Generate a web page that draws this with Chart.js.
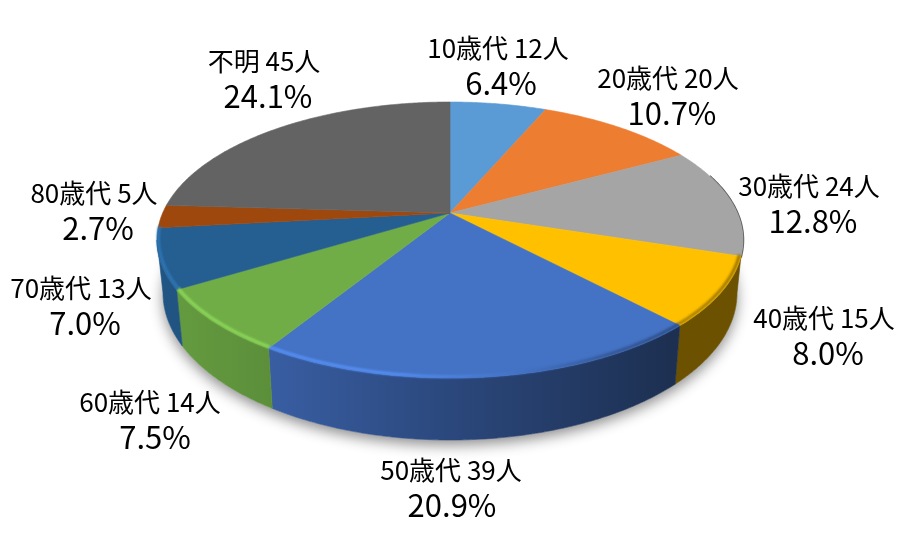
<!DOCTYPE html>
<html lang="ja">
<head>
<meta charset="utf-8">
<title>年代別</title>
<script src="https://cdn.jsdelivr.net/npm/chart.js@4"></script>
<style>
  html, body { margin: 0; padding: 0; background: #fff; }
  canvas { display: block; }
</style>
</head>
<body>
<canvas id="myChart" width="900" height="550"></canvas>
<script>
// data
const categories = ['10歳代', '20歳代', '30歳代', '40歳代', '50歳代', '60歳代', '70歳代', '80歳代', '不明'];
const counts = [12, 20, 24, 15, 39, 14, 13, 5, 45];
const percents = ['6.4%', '10.7%', '12.8%', '8.0%', '20.9%', '7.5%', '7.0%', '2.7%', '24.1%'];
const colors = ['#5B9BD5', '#ED7D31', '#A5A5A5', '#FFC000', '#4472C4', '#70AD47', '#255E91', '#9E480E', '#636363'];

// label centres, same order as categories, and how far the percent line sits right of its name
const labelPos = [[498, 48], [668, 78], [809, 186], [824, 318], [451, 470], [150, 402], [81, 288], [94, 193], [264, 61]];
const percentShift = [3, 4, 4, 4, 1, 5, 4, 4, 4];

// tilted disc: top face and bottom rim ellipses
const top3d = { cx: 450, cy: 240, rx: 293, ry: 138 };
const bottom3d = { cx: 450, cy: 293, rx: 287, ry: 147 };
const persp = -27 / 138; // pulls the apex up from the ellipse centre
const sideAngle = Math.asin(-persp); // angle where the ellipses are widest

function project(angle, e) {
    const X = Math.cos(angle), Y = Math.sin(angle);
    const den = 1 + persp * Y;
    return [
        e.cx + e.rx * Math.sqrt(1 - persp * persp) * X / den,
        e.cy + e.ry * (Y + persp) / den
    ];
}

function arcPoints(a0, a1, e) {
    const n = Math.max(2, Math.ceil((a1 - a0) / 0.01));
    const pts = [];
    for (let i = 0; i <= n; i++) pts.push(project(a0 + (a1 - a0) * i / n, e));
    return pts;
}

function shade(hex, f) {
    const v = parseInt(hex.slice(1), 16);
    const c = s => Math.min(255, Math.round(s * f));
    return `rgb(${c(v >> 16)}, ${c((v >> 8) & 255)}, ${c(v & 255)})`;
}

function trace(ctx, pts) {
    pts.forEach((p, i) => i ? ctx.lineTo(p[0], p[1]) : ctx.moveTo(p[0], p[1]));
}

function ramp(ctx, stops) {
    const g = ctx.createLinearGradient(160, 0, 740, 0);
    stops.forEach(s => g.addColorStop(s[0], s[1]));
    return g;
}

const pie3d = {
    id: 'pie3d',
    beforeDatasetDraw(chart, args) {
        const ctx = chart.ctx;
        const arcs = chart.getDatasetMeta(args.index).data;
        const rightSide = sideAngle, leftSide = Math.PI - sideAngle;
        ctx.save();

        // soft shadow under the disc
        ctx.save();
        ctx.shadowColor = 'rgba(0,0,0,0.45)';
        ctx.shadowBlur = 14;
        ctx.shadowOffsetY = 5;
        ctx.fillStyle = '#fff';
        ctx.beginPath();
        trace(ctx, arcPoints(0, Math.PI * 2, bottom3d));
        ctx.closePath();
        ctx.fill();
        ctx.restore();

        // side walls, only the slices facing front; the outer two reach out to the silhouette
        const front = arcs.map((arc, i) => i).filter(i => arcs[i].endAngle > 0.35 && arcs[i].startAngle < 3);
        front.forEach((i, k) => {
            const arc = arcs[i];
            const first = k === 0, last = k === front.length - 1;
            const g = ramp(ctx, [
                [0, shade(colors[i], 0.9)],
                [0.2, shade(colors[i], 0.82)],
                [0.55, shade(colors[i], 0.6)],
                [0.88, shade(colors[i], 0.42)],
                [1, shade(colors[i], 0.42)]
            ]);
            const upper = arcPoints(arc.startAngle, last ? leftSide : arc.endAngle, top3d);
            const lower = arcPoints(first ? rightSide : arc.startAngle, last ? leftSide : arc.endAngle, bottom3d).reverse();
            ctx.beginPath();
            trace(ctx, upper.concat(lower));
            ctx.closePath();
            ctx.fillStyle = g;
            ctx.strokeStyle = g;
            ctx.lineWidth = 0.6;
            ctx.fill();
            ctx.stroke();
        });

        // thin dark edge where the disc turns away on the right
        ctx.strokeStyle = 'rgba(40,40,40,0.75)';
        ctx.lineWidth = 1.5;
        ctx.beginPath();
        trace(ctx, arcPoints(-0.3, 0.32, { cx: top3d.cx + 0.5, cy: top3d.cy, rx: top3d.rx, ry: top3d.ry }));
        ctx.stroke();

        // top face
        const apex = [top3d.cx, top3d.cy + top3d.ry * persp];
        arcs.forEach((arc, i) => {
            ctx.beginPath();
            trace(ctx, [apex].concat(arcPoints(arc.startAngle, arc.endAngle, top3d)));
            ctx.closePath();
            ctx.fillStyle = colors[i];
            ctx.strokeStyle = colors[i];
            ctx.lineWidth = 0.6;
            ctx.fill();
            ctx.stroke();
        });

        // bevel along the front rim, lighter tint on the left, darker on the right
        ctx.save();
        ctx.filter = 'blur(0.8px)';
        ctx.lineWidth = 3;
        const rim = { cx: top3d.cx, cy: top3d.cy - 1.5, rx: top3d.rx - 1.5, ry: top3d.ry };
        front.forEach(i => {
            const arc = arcs[i];
            const a0 = Math.max(arc.startAngle, 0.2);
            const a1 = Math.min(arc.endAngle, Math.PI + 0.05);
            ctx.strokeStyle = ramp(ctx, [
                [0, shade(colors[i], 1.25)],
                [0.4, shade(colors[i], 1.25)],
                [0.62, shade(colors[i], 1)],
                [0.78, shade(colors[i], 0.75)],
                [1, shade(colors[i], 0.6)]
            ]);
            ctx.beginPath();
            trace(ctx, arcPoints(a0, a1, rim));
            ctx.stroke();
        });
        ctx.restore();

        ctx.restore();
        return false;
    },
    afterDraw(chart) {
        const ctx = chart.ctx;
        ctx.save();
        ctx.fillStyle = '#000';
        ctx.textAlign = 'center';
        ctx.textBaseline = 'middle';
        categories.forEach((c, i) => {
            const [x, y] = labelPos[i];
            ctx.font = '26px "Noto Sans CJK JP", "Noto Sans", sans-serif';
            ctx.fillText(`${c} ${counts[i]}人`, x, y);
            ctx.font = '31px "Noto Sans CJK JP", "Noto Sans", sans-serif';
            ctx.fillText(percents[i], x + percentShift[i], y + 35);
        });
        ctx.restore();
    }
};

const myChart = new Chart(document.getElementById('myChart'), {
    type: 'pie',
    data: {
        labels: categories,
        datasets: [{ data: counts, backgroundColor: colors, borderWidth: 0 }]
    },
    options: {
        responsive: false,
        animation: false,
        plugins: { legend: { display: false }, tooltip: { enabled: false } }
    },
    plugins: [pie3d]
});
</script>
</body>
</html>
